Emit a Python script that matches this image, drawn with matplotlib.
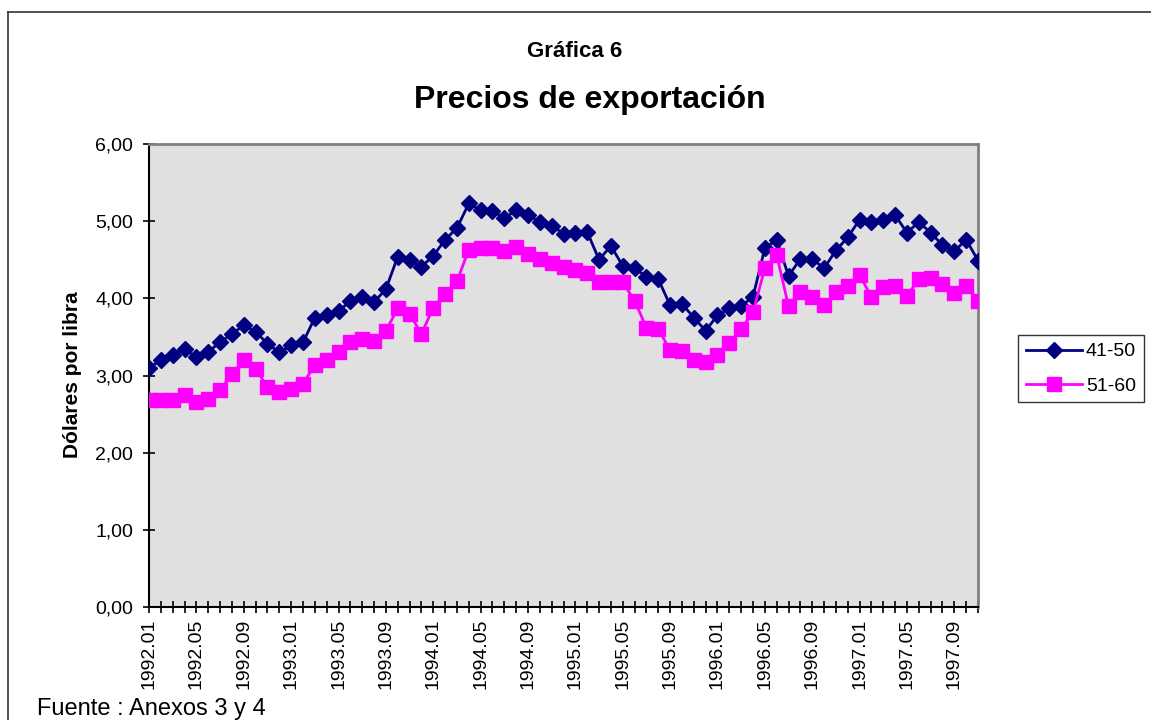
import matplotlib
matplotlib.use("Agg")
import matplotlib.pyplot as plt
from matplotlib.lines import Line2D

plt.rcParams['font.family'] = ['Liberation Sans', 'DejaVu Sans']

# monthly periods 1992.01 .. 1997.11
periods = [f"{y}.{m:02d}" for y in range(1992, 1998) for m in range(1, 13)][:71]

serie_41_50 = [3.10, 3.20, 3.26, 3.34, 3.24, 3.31, 3.43, 3.54, 3.65, 3.57,
               3.41, 3.30, 3.39, 3.43, 3.75, 3.78, 3.84, 3.96, 4.02, 3.95,
               4.12, 4.54, 4.50, 4.41, 4.55, 4.76, 4.91, 5.23, 5.14, 5.13,
               5.04, 5.14, 5.08, 4.99, 4.94, 4.84, 4.85, 4.86, 4.50, 4.68,
               4.42, 4.39, 4.28, 4.25, 3.91, 3.93, 3.75, 3.58, 3.78, 3.87,
               3.90, 4.02, 4.65, 4.76, 4.29, 4.51, 4.51, 4.39, 4.62, 4.79,
               5.02, 4.99, 5.02, 5.08, 4.85, 4.99, 4.85, 4.69, 4.61, 4.76,
               4.49]
serie_51_60 = [2.68, 2.68, 2.68, 2.75, 2.66, 2.70, 2.81, 3.02, 3.20, 3.09,
               2.85, 2.79, 2.82, 2.89, 3.14, 3.20, 3.31, 3.44, 3.47, 3.45,
               3.58, 3.87, 3.80, 3.54, 3.88, 4.06, 4.22, 4.63, 4.65, 4.65,
               4.61, 4.66, 4.57, 4.51, 4.46, 4.40, 4.37, 4.33, 4.21, 4.21,
               4.21, 3.97, 3.62, 3.60, 3.33, 3.32, 3.20, 3.17, 3.27, 3.42,
               3.60, 3.82, 4.39, 4.56, 3.90, 4.08, 4.02, 3.91, 4.08, 4.16,
               4.30, 4.02, 4.15, 4.16, 4.03, 4.25, 4.26, 4.18, 4.07, 4.16,
               3.97]

y_ticks = [0, 1, 2, 3, 4, 5, 6]
y_labels = ["0,00", "1,00", "2,00", "3,00", "4,00", "5,00", "6,00"]

fig = plt.figure(figsize=(11.51, 7.2), dpi=100)
ax = fig.add_axes([0.1295, 0.1569, 0.7202, 0.6431])
ax.set_facecolor('#E0E0E0')

x = list(range(len(periods)))
ax.plot(x, serie_41_50, color='#000080', lw=2, marker='D', ms=7.8,
        label='41-50', zorder=3)
ax.plot(x, serie_51_60, color='#FF00FF', lw=2, marker='s', ms=10.5,
        label='51-60', zorder=4)

ax.set_xlim(0, len(periods) - 1)
ax.set_ylim(0, 6)
ax.set_yticks(y_ticks)
ax.set_yticklabels(y_labels, fontsize=14)
ax.set_xticks(x)
ax.set_xticklabels([p if i % 4 == 0 else '' for i, p in enumerate(periods)],
                   rotation=90, fontsize=14)
ax.tick_params(axis='both', direction='inout', length=9, width=1.2, color='black')
ax.tick_params(axis='x', pad=4)
ax.tick_params(axis='y', pad=7)

for side in ('top', 'right'):
    ax.spines[side].set_color('#808080')
    ax.spines[side].set_linewidth(2)
for side in ('left', 'bottom'):
    ax.spines[side].set_color('black')
    ax.spines[side].set_linewidth(1.5)

ax.set_ylabel('Dólares por libra', fontsize=15, fontweight='bold')
ax.yaxis.set_label_coords(0.0712, 0.479, transform=fig.transFigure)

fig.text(0.4996, 0.928, 'Gráfica 6', fontsize=16, fontweight='bold',
         ha='center', va='center')
fig.text(0.5126, 0.861, 'Precios de exportación', fontsize=23,
         fontweight='bold', ha='center', va='center')
fig.text(0.032, 0.015, 'Fuente : Anexos 3 y 4', fontsize=17,
         ha='left', va='center')

leg = ax.legend(loc='center', bbox_to_anchor=(0.939, 0.488),
                bbox_transform=fig.transFigure, fontsize=14, frameon=True,
                fancybox=False, edgecolor='black', handlelength=2.9,
                labelspacing=0.85, borderpad=0.4, handletextpad=0.2)
leg.get_frame().set_linewidth(1)

# chart area border
fig.add_artist(Line2D([0.007, 0.007], [0.0, 0.9833], color='#333333', lw=1.2))
fig.add_artist(Line2D([0.007, 1.0], [0.9833, 0.9833], color='#333333', lw=1.2))

fig.savefig('out.png', dpi=100)
